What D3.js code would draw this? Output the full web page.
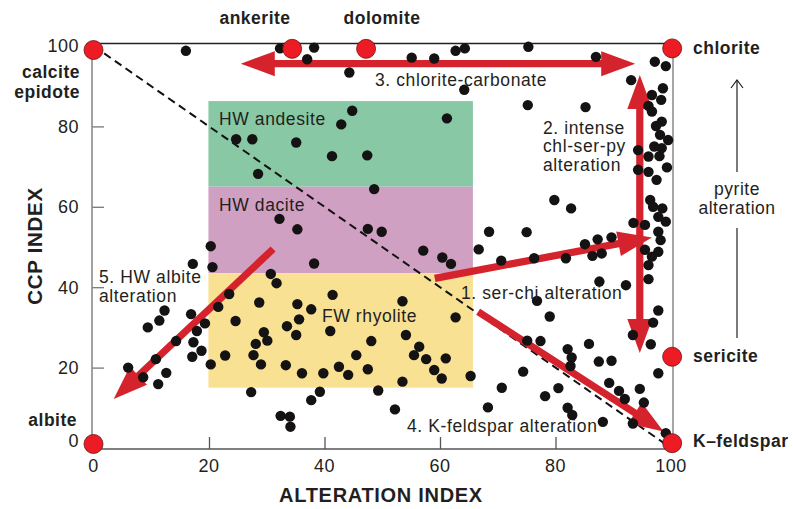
<!DOCTYPE html>
<html>
<head>
<meta charset="utf-8">
<script src="https://cdn.jsdelivr.net/npm/d3@7"></script>
<style>
  html, body { margin: 0; padding: 0; background: #fff; }
  svg { display: block; font-family: "Liberation Sans", Arial, Helvetica, sans-serif; }
</style>
</head>
<body>
<svg id="chart" width="793" height="509"></svg>
<script>
// Alteration box plot: alteration index (AI) against chlorite-carbonate-pyrite index (CCP)

const xTicks = [0, 20, 40, 60, 80, 100];
const yTicks = [0, 20, 40, 60, 80, 100];

// samples as [AI, CCP]
const samples = [
  [16.0,98.8],[24.7,76.8],[27.5,76.8],[28.5,68.2],[32.3,99.4],[38.2,99.6],[37.0,96.7],[44.3,93.4],
  [55.1,97.1],[59.0,96.9],[62.7,98.8],[64.3,99.4],[64.2,89.1],[44.8,83.9],[42.9,80.5],[61.2,82.0],
  [35.1,76.0],[41.3,72.6],[47.4,72.8],[75.3,99.8],[87.0,97.3],[75.2,85.3],[85.2,84.8],[97.2,96.1],
  [99.1,95.0],[93.1,91.5],
  [98.6,89.5],[96.7,87.8],[98.3,86.6],[96.1,85.1],[96.7,83.7],[98.4,81.2],[97.4,80.1],[98.1,77.9],
  [99.5,76.6],[97.1,75.0],[98.4,74.6],[94.3,74.1],[96.1,72.5],[98.0,72.6],[99.3,69.8],[96.1,68.7],
  [94.3,69.2],[97.5,66.7],[96.4,61.7],[96.9,60.0],[98.5,59.6],[97.8,57.5],[99.1,56.3],[95.5,55.5],
  [93.5,56.0],[97.8,53.8],[98.2,51.7],[95.5,49.3],[97.8,48.8],[96.7,47.6],[96.1,45.5],[96.1,42.0],
  [79.8,61.7],[82.7,59.6],[85.1,50.7],[87.3,51.9],[89.7,52.4],[81.8,47.2],[86.4,47.8],[88.0,48.4],
  [87.6,41.4],[92.2,40.5],
  [49.9,53.8],[57.1,49.1],[60.4,47.4],[61.9,45.8],[68.5,53.8],[75.0,53.7],[66.7,49.4],[70.6,46.6],
  [76.3,47.2],[53.5,36.5],[62.7,32.5],[76.8,36.6],[79.0,32.7],[48.6,64.4],[35.3,54.4],[47.5,54.5],
  [38.2,45.9],[32.2,57.0],
  [20.3,50.2],[17.2,45.8],[20.6,45.0],[30.7,43.3],[31.7,41.0],[23.5,38.3],[28.7,36.2],[21.6,35.1],
  [12.3,34.2],[16.9,33.3],[11.4,31.7],[24.6,31.6],[9.4,30.0],[19.3,31.0],[17.9,29.1],[14.3,26.6],
  [17.3,26.3],[18.7,24.2],[17.1,22.7],[10.8,22.1],[6.0,20.0],[8.6,17.6],[12.6,18.7],[11.2,15.9],
  [29.5,28.8],[30.1,26.7],[28.1,25.9],[33.5,30.3],[22.8,23.0],[27.7,23.1],[29.0,20.8],[20.3,20.8],
  [33.3,20.6],[27.3,13.9],[32.4,8.0],[34.0,7.8],[34.1,5.3],
  [41.4,38.1],[35.3,35.8],[37.7,34.5],[35.6,32.0],[35.1,28.1],[41.0,29.1],[54.1,28.1],[48.1,26.6],
  [56.4,25.2],[55.5,23.1],[57.6,22.1],[61.0,22.3],[45.5,23.1],[36.1,18.6],[39.8,18.6],[42.5,20.2],
  [44.1,18.2],[47.5,19.6],[59.0,19.4],[60.3,17.3],[53.5,16.5],[65.3,17.9],[39.2,14.0],[37.7,11.9],
  [49.3,14.3],[52.2,9.6],
  [75.1,26.7],[77.4,26.6],[74.4,19.0],[70.7,15.0],[78.2,12.9],[68.3,10.1],[97.8,34.2],[96.9,31.2],
  [93.4,28.1],[96.5,25.8],[82.1,24.6],[82.8,22.5],[82.6,20.4],[85.8,25.9],[87.5,21.5],[89.7,21.7],
  [97.8,18.6],[89.3,16.2],[91.0,14.2],[92.0,12.2],[94.6,14.7],[95.3,11.3],[80.5,14.9],[82.1,10.0],
  [82.9,8.2],[88.2,6.5],[93.4,6.1],[99.1,3.7]
];

// lithology fields: [AI min, AI max, CCP min, CCP max]
const zoneNames  = ["HW andesite", "HW dacite", "FW rhyolite"];
const zoneBounds = [[19.9, 65.7, 65.0, 86.3], [19.9, 65.7, 43.5, 65.0], [19.9, 65.7, 15.0, 43.5]];
const zoneColors = ["#88c8a5", "#d0a0c2", "#f9e193"];

// mineral end-members on the frame
const mineralAI  = [0, 34.4, 47.2, 100.2, 100.2, 100.2, 0];
const mineralCCP = [99.0, 99.3, 99.3, 99.4, 22.7, 1.2, 1.0];

// alteration trends: start [AI, CCP], end [AI, CCP], double-headed?
const trendFrom = [[59.1, 42.2], [94.6, 23.6], [25.5, 95.6], [66.6, 33.9], [31.1, 49.5]];
const trendTo   = [[96.7, 52.4], [94.6, 92.8], [93.8, 95.6], [98.7, 4.1], [3.5, 12.2]];
const trendBoth = [false, true, true, false, false];

// ---- layout ----
const svg = d3.select("#chart");
const frame = { left: 92, right: 673, top: 43.5, bottom: 449 };
const x = d3.scaleLinear().domain([0, 100]).range([93.5, 671]);
const y = d3.scaleLinear().domain([0, 100]).range([448, 46]);

const INK = "#231f20";
const RED = "#d4232c";

svg.append("rect").attr("width", 793).attr("height", 509).attr("fill", "#fff");

// lithology fields
svg.append("g").selectAll("rect").data(zoneBounds).join("rect")
  .attr("x", d => x(d[0])).attr("width", d => x(d[1]) - x(d[0]))
  .attr("y", d => y(d[3])).attr("height", d => y(d[2]) - y(d[3]))
  .attr("fill", (d, i) => zoneColors[i]);

// frame
svg.append("line").attr("x1", frame.left).attr("x2", frame.right).attr("y1", frame.top).attr("y2", frame.top)
  .attr("stroke", "#222").attr("stroke-width", 1.3);
svg.append("line").attr("x1", frame.right).attr("x2", frame.right).attr("y1", frame.top).attr("y2", frame.bottom)
  .attr("stroke", "#777").attr("stroke-width", 1.3);

// axes with inward ticks
const yAxis = d3.axisLeft(y).tickValues([20, 40, 60, 80]).tickSize(-12).tickFormat("");
const gy = svg.append("g").attr("transform", `translate(${frame.left},0)`).call(yAxis);
gy.select(".domain").remove();
gy.selectAll(".tick line").attr("stroke", "#777").attr("stroke-width", 1.3);
svg.append("line").attr("x1", frame.left).attr("x2", frame.left).attr("y1", frame.top).attr("y2", frame.bottom)
  .attr("stroke", "#8a8a8a").attr("stroke-width", 1.6);

const xAxis = d3.axisBottom(x).tickValues([20, 40, 60, 80]).tickSize(-12).tickFormat("");
const gx = svg.append("g").attr("transform", `translate(0,${frame.bottom})`).call(xAxis);
gx.select(".domain").remove();
gx.selectAll(".tick line").attr("stroke", "#555").attr("stroke-width", 1.3);
svg.append("line").attr("x1", frame.left).attr("x2", frame.right).attr("y1", frame.bottom).attr("y2", frame.bottom)
  .attr("stroke", "#555").attr("stroke-width", 1.6);

// tick labels
svg.append("g").selectAll("text").data(yTicks).join("text")
  .attr("x", 79).attr("y", d => y(d) + 6.3 - (d === 0 ? 7 : 0))
  .attr("text-anchor", "end").attr("font-size", 18).attr("letter-spacing", 0.5).attr("fill", INK)
  .text(d => d);
svg.append("g").selectAll("text").data(xTicks).join("text")
  .attr("x", d => x(d)).attr("y", 472)
  .attr("text-anchor", "middle").attr("font-size", 18).attr("letter-spacing", 0.5).attr("fill", INK)
  .text(d => d);

// axis titles
svg.append("text").attr("transform", "translate(42,246) rotate(-90)")
  .attr("text-anchor", "middle").attr("font-size", 20.5).attr("font-weight", "bold")
  .attr("letter-spacing", 0.7).attr("fill", INK).text("CCP INDEX");
svg.append("text").attr("x", 381).attr("y", 502)
  .attr("text-anchor", "middle").attr("font-size", 20).attr("font-weight", "bold")
  .attr("letter-spacing", 0.7).attr("fill", INK).text("ALTERATION INDEX");

// field names
const zoneLabelPos = [[219, 125], [219, 211], [322, 322]];
svg.append("g").selectAll("text").data(zoneNames).join("text")
  .attr("x", (d, i) => zoneLabelPos[i][0]).attr("y", (d, i) => zoneLabelPos[i][1])
  .attr("font-size", 17.5).attr("letter-spacing", 0.6).attr("fill", INK).text(d => d);

// diagonal reference line
svg.append("line")
  .attr("x1", x(0)).attr("y1", y(100)).attr("x2", x(100)).attr("y2", y(0))
  .attr("stroke", "#111").attr("stroke-width", 2).attr("stroke-dasharray", "8,5");

// alteration trend arrows
function arrowPath(p0, p1, both) {
  const x0 = x(p0[0]), y0 = y(p0[1]), x1 = x(p1[0]), y1 = y(p1[1]);
  const dx = x1 - x0, dy = y1 - y0, L = Math.hypot(dx, dy);
  const ux = dx / L, uy = dy / L, nx = -uy, ny = ux;
  const hl = 34, hw = 12.5, sw = 3.6;
  const P = (s, t) => [x0 + ux * s + nx * t, y0 + uy * s + ny * t];
  const pts = both
    ? [P(0, 0), P(hl, hw), P(hl, sw), P(L - hl, sw), P(L - hl, hw), P(L, 0),
       P(L - hl, -hw), P(L - hl, -sw), P(hl, -sw), P(hl, -hw)]
    : [P(0, sw), P(L - hl, sw), P(L - hl, hw), P(L, 0), P(L - hl, -hw), P(L - hl, -sw), P(0, -sw)];
  return "M" + pts.map(p => p[0].toFixed(1) + "," + p[1].toFixed(1)).join("L") + "Z";
}
svg.append("g").selectAll("path").data(trendFrom).join("path")
  .attr("d", (d, i) => arrowPath(d, trendTo[i], trendBoth[i]))
  .attr("fill", RED);

// samples
svg.append("g").selectAll("circle").data(samples).join("circle")
  .attr("cx", d => x(d[0])).attr("cy", d => y(d[1])).attr("r", 5.2)
  .attr("fill", "#141212");

// trend captions
const captions = [
  { lines: ["1. ser-chi alteration"], x: 461, y: 298.5 },
  { lines: ["2. intense", "chl-ser-py", "alteration"], x: 543, y: 133.5 },
  { lines: ["3. chlorite-carbonate"], x: 375, y: 85.5 },
  { lines: ["4. K-feldspar alteration"], x: 407, y: 432 },
  { lines: ["5. HW albite", "alteration"], x: 99, y: 283 }
];
captions.forEach(c => {
  const t = svg.append("text").attr("font-size", 17.5).attr("letter-spacing", 0.6).attr("fill", INK);
  c.lines.forEach((s, k) => t.append("tspan").attr("x", c.x).attr("y", c.y + k * 18.6).text(s));
});

// end-member markers
svg.append("g").selectAll("circle").data(mineralAI).join("circle")
  .attr("cx", d => x(d)).attr("cy", (d, i) => y(mineralCCP[i])).attr("r", 9.5)
  .attr("fill", "#ed1c24").attr("stroke", "#6b1214").attr("stroke-width", 0.8);

// end-member names
const mineralLabels = [
  { lines: ["calcite", "epidote"], x: 80, y: 78, anchor: "end" },
  { lines: ["ankerite"], x: 255, y: 24, anchor: "middle" },
  { lines: ["dolomite"], x: 382, y: 24, anchor: "middle" },
  { lines: ["chlorite"], x: 693, y: 54, anchor: "start" },
  { lines: ["sericite"], x: 693, y: 362, anchor: "start" },
  { lines: ["K–feldspar"], x: 693, y: 447, anchor: "start" },
  { lines: ["albite"], x: 77, y: 426, anchor: "end" }
];
mineralLabels.forEach(m => {
  const t = svg.append("text").attr("font-size", 17.5).attr("font-weight", "bold")
    .attr("letter-spacing", 0.5).attr("fill", INK).attr("text-anchor", m.anchor);
  m.lines.forEach((s, k) => t.append("tspan").attr("x", m.x).attr("y", m.y + k * 20).text(s));
});

// pyrite alteration direction
const py = svg.append("g").attr("stroke", INK).attr("stroke-width", 1.2).attr("fill", "none");
py.append("line").attr("x1", 737).attr("x2", 737).attr("y1", 80).attr("y2", 172);
py.append("path").attr("d", "M731,88L737,80L743,88");
py.append("line").attr("x1", 737).attr("x2", 737).attr("y1", 228).attr("y2", 338);
const pt = svg.append("text").attr("font-size", 17.5).attr("letter-spacing", 0.5)
  .attr("fill", INK).attr("text-anchor", "middle");
pt.append("tspan").attr("x", 737).attr("y", 195).text("pyrite");
pt.append("tspan").attr("x", 737).attr("y", 214).text("alteration");
</script>
</body>
</html>
